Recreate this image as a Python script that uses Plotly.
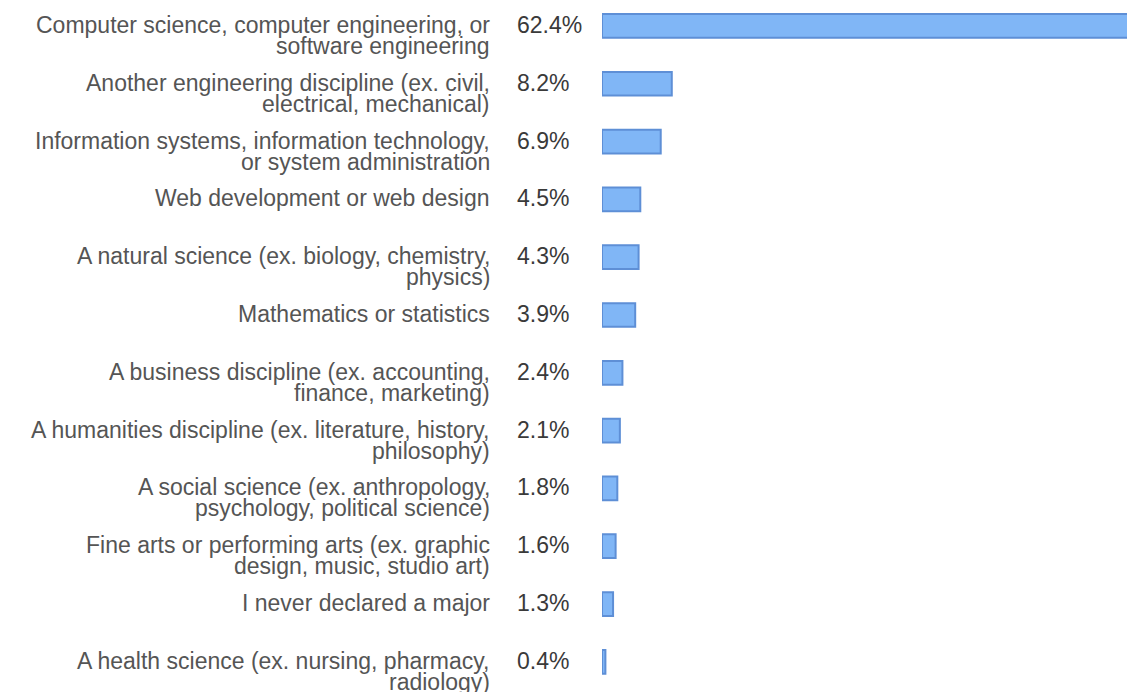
import plotly.graph_objects as go

categories = [
    "Computer science, computer engineering, or<br>software engineering",
    "Another engineering discipline (ex. civil,<br>electrical, mechanical)",
    "Information systems, information technology,<br>or system administration",
    "Web development or web design",
    "A natural science (ex. biology, chemistry,<br>physics)",
    "Mathematics or statistics",
    "A business discipline (ex. accounting,<br>finance, marketing)",
    "A humanities discipline (ex. literature, history,<br>philosophy)",
    "A social science (ex. anthropology,<br>psychology, political science)",
    "Fine arts or performing arts (ex. graphic<br>design, music, studio art)",
    "I never declared a major",
    "A health science (ex. nursing, pharmacy,<br>radiology)",
]
values = [62.4, 8.2, 6.9, 4.5, 4.3, 3.9, 2.4, 2.1, 1.8, 1.6, 1.3, 0.4]
value_labels = ["62.4%", "8.2%", "6.9%", "4.5%", "4.3%", "3.9%", "2.4%", "2.1%", "1.8%", "1.6%", "1.3%", "0.4%"]

FONT = "Liberation Sans, Arial, sans-serif"
FS = 23
LINE_GAP = 21

fig = go.Figure(go.Bar(
    x=values,
    y=list(range(len(categories))),
    orientation="h",
    width=0.41,
    marker=dict(color="#80B6F6", line=dict(color="#5E8FD6", width=2)),
    hoverinfo="skip",
))

annotations = []
for i, (cat, vl) in enumerate(zip(categories, value_labels)):
    lines = cat.split("<br>")
    for j, ln in enumerate(lines):
        annotations.append(dict(
            x=0, xref="paper", y=i, yref="y",
            xanchor="right", yanchor="middle",
            xshift=-110, yshift=-LINE_GAP * j + 1,
            text=ln, showarrow=False,
            font=dict(family=FONT, size=FS, color="#555555"),
        ))
    annotations.append(dict(
        x=0, xref="paper", y=i, yref="y",
        xanchor="left", yanchor="middle",
        xshift=-87, yshift=1,
        text=vl, showarrow=False,
        font=dict(family=FONT, size=FS, color="#3a3a3a"),
    ))

fig.update_layout(
    width=1135, height=692,
    margin=dict(l=594, r=10, t=0, b=0),
    paper_bgcolor="white", plot_bgcolor="white",
    showlegend=False,
    annotations=annotations,
    xaxis=dict(range=[0, 62.4], visible=False, fixedrange=True),
    yaxis=dict(range=[11.66, -0.31], visible=False, fixedrange=True),
)

fig.write_html("out.html")
